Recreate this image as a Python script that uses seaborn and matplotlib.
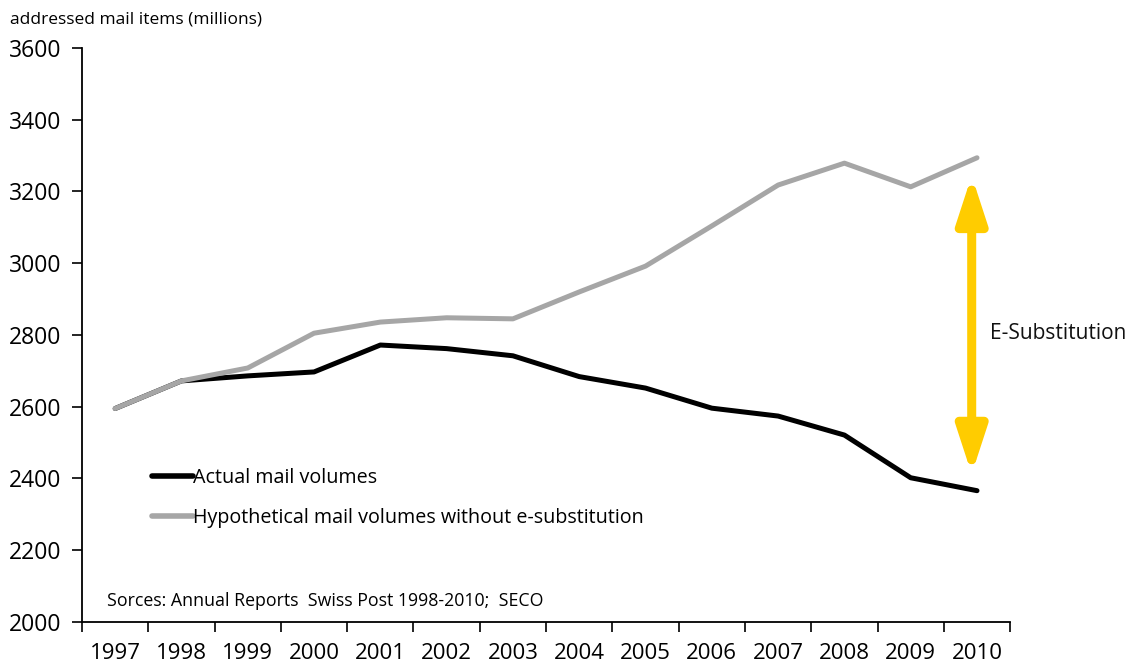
import matplotlib
matplotlib.use("Agg")
import matplotlib.pyplot as plt
import seaborn as sns
import pandas as pd

years = [str(y) for y in range(1997, 2011)]
actual = [2595, 2672, 2686, 2697, 2772, 2762, 2742, 2684, 2652, 2596, 2574, 2521, 2402, 2366]
hypothetical = [2595, 2672, 2708, 2805, 2836, 2848, 2845, 2920, 2992, 3104, 3218, 3279, 3213, 3294]
series_names = ["Actual mail volumes", "Hypothetical mail volumes without e-substitution"]
arrow_range = [2412, 3244]

sns.set_theme(style="white")
plt.rcParams["font.family"] = ["Open Sans", "DejaVu Sans"]
plt.rcParams["text.color"] = "#000000"

df = pd.DataFrame({
    "year": years * 2,
    "value": actual + hypothetical,
    "series": [series_names[0]] * len(years) + [series_names[1]] * len(years),
})

fig = plt.figure(figsize=(11.44, 6.64), dpi=100)
ax = fig.add_axes([0.0717, 0.0633, 0.8113, 0.8644])

sns.lineplot(data=df, x="year", y="value", hue="series",
             palette={series_names[0]: "#000000", series_names[1]: "#A6A6A6"},
             linewidth=3.6, ax=ax, sort=False, legend=True)

ax.set_xlim(-0.5, len(years) - 0.5)
ax.set_ylim(2000, 3600)
ax.set_yticks(range(2000, 3601, 200))
ax.set_xticks([i for i in range(len(years))])
ax.set_xticklabels(years)
ax.set_xticks([i - 0.5 for i in range(len(years) + 1)], minor=True)
ax.tick_params(axis="x", which="major", length=0, labelsize=16, pad=15, colors="#000000")
ax.tick_params(axis="x", which="minor", length=7, width=1.2, direction="out", bottom=True, colors="#000000")
ax.tick_params(axis="y", which="major", length=7, width=1.2, direction="out", left=True, labelsize=16.5, pad=8, colors="#000000")
ax.set_xlabel("")
ax.set_ylabel("")
for s in ["top", "right"]:
    ax.spines[s].set_visible(False)
for s in ["left", "bottom"]:
    ax.spines[s].set_color("#000000")
    ax.spines[s].set_linewidth(1.3)

leg = ax.legend(loc="upper left", bbox_to_anchor=(0.056, 0.3), frameon=False,
                fontsize=14.2, handlelength=2.1, handletextpad=0.0, labelspacing=1.05)
for line in leg.get_lines():
    line.set_linewidth(4)
    line.set_solid_capstyle("round")
for t in leg.get_texts():
    t.set_color("#000000")

ax.annotate("", xy=(12.92, arrow_range[0]), xytext=(12.92, arrow_range[1]),
            arrowprops=dict(arrowstyle="<|-|>,head_length=2.3,head_width=0.75",
                            lw=6.5, color="#FFCC00", shrinkA=0, shrinkB=0))
ax.text(13.2, 2805, "E-Substitution", fontsize=15, ha="left", va="center", color="#111111")

fig.text(10 / 1144, 1 - 20 / 664, "addressed mail items (millions)", fontsize=12.5, ha="left", va="center")
ax.text(25 / 928, (622 - 601) / 574, "Sorces: Annual Reports  Swiss Post 1998-2010;  SECO", transform=ax.transAxes,
        fontsize=12.8, ha="left", va="center")

fig.savefig("out.png", dpi=100)
